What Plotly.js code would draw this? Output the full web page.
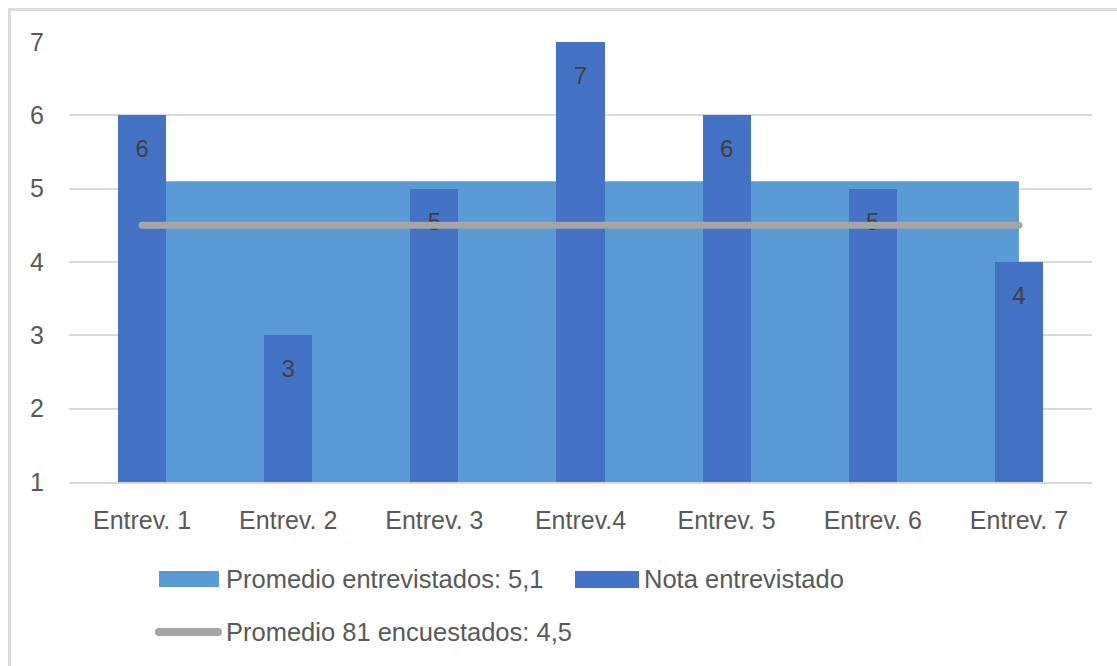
<!DOCTYPE html>
<html>
<head>
<meta charset="utf-8">
<script src="https://cdn.plot.ly/plotly-3.0.1.min.js"></script>
<style>
  html, body { margin: 0; padding: 0; background: #ffffff; overflow: hidden; }
  #chart { position: absolute; left: 0; top: 0; width: 1117px; height: 666px; }
  #frame {
    position: absolute; left: 8px; top: 8px; width: 1200px; height: 800px;
    border-left: 3px solid #dcdcdc; border-top: 3px solid #dcdcdc;
    pointer-events: none;
  }
  /* rounded ends for the survey-average line and its legend key */
  .scatterlayer .js-line { stroke-linecap: round; }
  .shapelayer path { stroke-linecap: round; }
</style>
</head>
<body>
<div id="chart"></div>
<div id="frame"></div>
<script>
// Categories and series
const categories = ['Entrev. 1', 'Entrev. 2', 'Entrev. 3', 'Entrev.4', 'Entrev. 5', 'Entrev. 6', 'Entrev. 7'];
const notaEntrevistado = [6, 3, 5, 7, 6, 5, 4];
const promedioEntrevistados = [5.1, 5.1, 5.1, 5.1, 5.1, 5.1, 5.1];
const promedioEncuestados = [4.5, 4.5, 4.5, 4.5, 4.5, 4.5, 4.5];

const seriesNames = {
  area: 'Promedio entrevistados: 5,1',
  bars: 'Nota entrevistado',
  line: 'Promedio 81 encuestados: 4,5'
};
const yTicks = [1, 2, 3, 4, 5, 6, 7];

const colors = { area: '#5B9BD5', bars: '#4472C4', line: '#A5A5A5', grid: '#D9D9D9', text: '#595959', label: '#404040' };
const FONT = 'Liberation Sans, Arial, sans-serif';

// plot box in pixels (used for the hand-drawn legend)
const W = 1117, H = 666;
const M = { l: 69, r: 25, t: 42, b: 184 };
const px = x => (x - M.l) / (W - M.l - M.r);
const py = y => (H - M.b - y) / (H - M.t - M.b);

const traces = [
  // average of the interviewees as a filled area (drawn behind everything)
  {
    type: 'scatter', name: seriesNames.area,
    x: categories, y: promedioEntrevistados,
    mode: 'none', fill: 'tozeroy', fillcolor: colors.area,
    xaxis: 'x', yaxis: 'y', hoverinfo: 'skip', showlegend: false
  },
  // individual scores
  {
    type: 'bar', name: seriesNames.bars,
    x: categories, y: notaEntrevistado,
    width: 0.33, marker: { color: colors.bars, line: { width: 0 } },
    xaxis: 'x2', yaxis: 'y2', showlegend: false
  },
  // value labels inside the bars
  {
    type: 'scatter', x: categories, y: notaEntrevistado,
    mode: 'markers+text', text: notaEntrevistado.map(String),
    textposition: 'bottom center',
    textfont: { family: FONT, size: 24, color: colors.label },
    marker: { size: 36, color: 'rgba(0,0,0,0)' },
    xaxis: 'x2', yaxis: 'y2', hoverinfo: 'skip', showlegend: false, cliponaxis: false
  },
  // average of the 81 surveyed
  {
    type: 'scatter', name: seriesNames.line,
    x: categories, y: promedioEncuestados,
    mode: 'lines', line: { color: colors.line, width: 7 },
    xaxis: 'x2', yaxis: 'y2', showlegend: false, cliponaxis: false
  }
];

const legendFont = { family: FONT, size: 25.5, color: colors.text };
const shapes = [
  { type: 'rect', xref: 'paper', yref: 'paper', x0: px(159), x1: px(219), y0: py(587), y1: py(571),
    fillcolor: colors.area, line: { width: 0 } },
  { type: 'rect', xref: 'paper', yref: 'paper', x0: px(575), x1: px(639), y0: py(588), y1: py(571),
    fillcolor: colors.bars, line: { width: 0 } },
  { type: 'line', xref: 'paper', yref: 'paper', x0: px(159), x1: px(218), y0: py(632), y1: py(632),
    line: { color: colors.line, width: 8 } }
];
const annotations = [
  { text: seriesNames.area, x: px(224), y: py(579), xref: 'paper', yref: 'paper',
    xanchor: 'left', yanchor: 'middle', showarrow: false, font: legendFont },
  { text: seriesNames.bars, x: px(642), y: py(579), xref: 'paper', yref: 'paper',
    xanchor: 'left', yanchor: 'middle', showarrow: false, font: legendFont },
  { text: seriesNames.line, x: px(224), y: py(632), xref: 'paper', yref: 'paper',
    xanchor: 'left', yanchor: 'middle', showarrow: false, font: legendFont }
];

const axisFont = { family: FONT, size: 25, color: colors.text };
const layout = {
  width: W, height: H,
  margin: M,
  paper_bgcolor: '#ffffff', plot_bgcolor: '#ffffff',
  showlegend: false,
  bargap: 0,
  xaxis: {
    type: 'category', categoryarray: categories, range: [-0.5, 6.5],
    showgrid: false, zeroline: false, ticks: '',
    showline: true, linecolor: colors.grid, linewidth: 2, layer: 'below traces',
    tickfont: axisFont, ticklabelstandoff: 15, fixedrange: true
  },
  yaxis: {
    range: [1, 7], tickvals: yTicks, ticktext: yTicks.map(String),
    showgrid: true, gridcolor: colors.grid, gridwidth: 2,
    zeroline: false, showline: false, ticks: '',
    tickfont: axisFont, ticklabelstandoff: 24, fixedrange: true
  },
  xaxis2: {
    type: 'category', categoryarray: categories, range: [-0.5, 6.5],
    overlaying: 'x', showgrid: false, zeroline: false, showticklabels: false, ticks: '', fixedrange: true
  },
  yaxis2: {
    range: [1, 7], overlaying: 'y', showgrid: false, zeroline: false,
    showticklabels: false, ticks: '', fixedrange: true
  },
  shapes: shapes,
  annotations: annotations
};

Plotly.newPlot('chart', traces, layout, { displayModeBar: false, staticPlot: true });
</script>
</body>
</html>
